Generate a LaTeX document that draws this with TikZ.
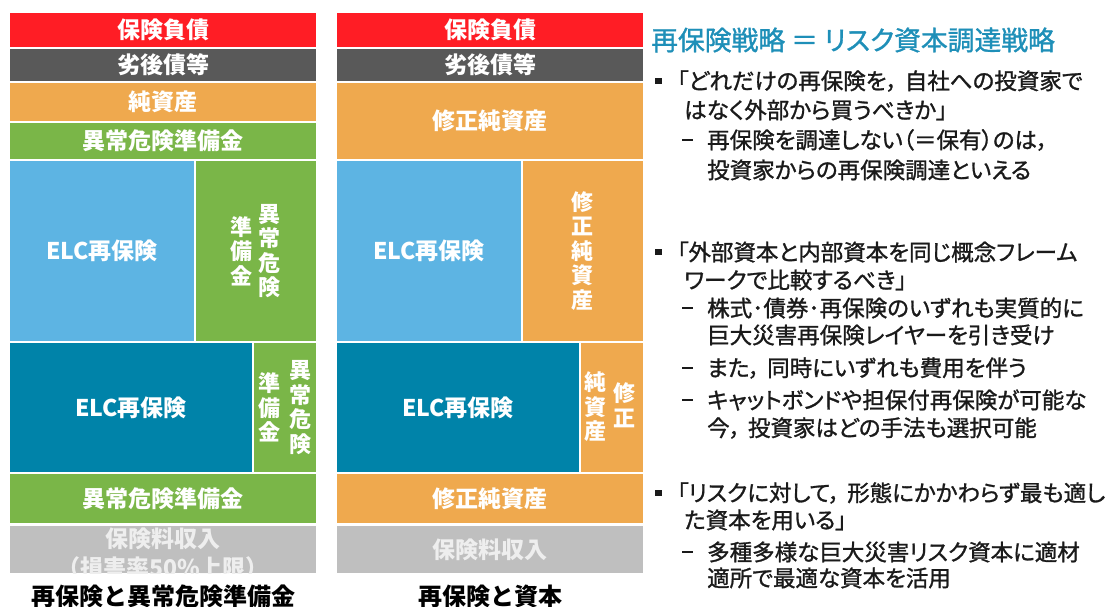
\documentclass[tikz,border=0pt]{standalone}
\usepackage{fontspec}
\newfontfamily\jpbox{Noto Sans CJK JP}
\newfontfamily\jptxt{Noto Sans CJK JP}[RawFeature=+palt, FakeBold=1.2]
\definecolor{cRed}{HTML}{FF1D25}
\definecolor{cDgray}{HTML}{595959}
\definecolor{cOrange}{HTML}{EFA94E}
\definecolor{cGreen}{HTML}{7AB648}
\definecolor{cLblue}{HTML}{5DB4E3}
\definecolor{cTeal}{HTML}{0083A9}
\definecolor{cLgray}{HTML}{BFBFBF}
\definecolor{cTitle}{HTML}{1E8FB8}
\definecolor{cText}{HTML}{1A1A1A}
\definecolor{cPale}{HTML}{EEEEEE}
\tikzset{
  boxlabel/.style={text=white, inner sep=0pt, font=\jpbox\bfseries\fontsize{23}{24.5}\selectfont, align=center},
  paletext/.style={boxlabel, text=cPale},
  vlabel/.style={boxlabel, font=\jpbox\bfseries\fontsize{22}{24.5}\selectfont},
  caption/.style={text=black, inner sep=0pt, font=\jpbox\bfseries\fontsize{24}{26}\selectfont},
  txtline/.style={anchor=west, inner sep=0pt, text=cText, font=\jptxt\fontsize{22.5}{24}\selectfont},
  titletext/.style={anchor=west, inner sep=0pt, text=cTitle, font=\jptxt\fontsize{26.8}{28}\selectfont},
  bulletsq/.style={fill=cText, minimum size=6.5pt, inner sep=0pt},
  dashmark/.style={fill=cText, minimum width=11pt, minimum height=2pt, inner sep=0pt},
}
\newcommand{\blk}[5]{\fill[#5] (#1,#2) rectangle (#3,#4);}
\begin{document}
\begin{tikzpicture}[x=1pt,y=-1pt]
\useasboundingbox (0,0) rectangle (1110,606);
\fill[white] (0,0) rectangle (1110,606);
% ---------- left column ----------
\blk{10}{13}{316}{47}{cRed}
\blk{10}{49}{316}{81}{cDgray}
\blk{10}{83}{316}{121}{cOrange}
\blk{10}{123}{316}{159}{cGreen}
\blk{10}{161}{194}{341}{cLblue}
\blk{196}{161}{316}{341}{cGreen}
\blk{10}{343}{252}{471.5}{cTeal}
\blk{254}{343}{316}{471.5}{cGreen}
\blk{10}{473.5}{316}{523.3}{cGreen}
\blk{10}{525.7}{316}{573.3}{cLgray}
\node[boxlabel] (l1) at (163,30) {保険負債};
\node[boxlabel] (l2) at (163,65) {劣後債等};
\node[boxlabel] (l3) at (163,102) {純資産};
\node[boxlabel] (l4) at (163,141) {異常危険準備金};
\node[boxlabel] (l5) at (102,251) {ELC再保険};
\node[vlabel] (l6a) at (269.5,251) {異\\常\\危\\険};
\node[vlabel] (l6b) at (241,251) {準\\備\\金};
\node[boxlabel] (l7) at (131,408) {ELC再保険};
\node[vlabel] (l8a) at (300,407.5) {異\\常\\危\\険};
\node[vlabel] (l8b) at (269,407.5) {準\\備\\金};
\node[boxlabel] (l9) at (163,498.5) {異常危険準備金};
\begin{scope}
\clip (10,525.7) rectangle (316,573.3);
\node[paletext] (l10) at (163,538.5) {保険料収入};
\node[paletext] (l11) at (163,567.5) {（損害率50\%上限）};
\end{scope}
\node[caption] (cap1) at (163,596) {再保険と異常危険準備金};
% ---------- right column ----------
\blk{337}{13}{643}{47}{cRed}
\blk{337}{49}{643}{81}{cDgray}
\blk{337}{83}{643}{159}{cOrange}
\blk{337}{161}{521}{341}{cLblue}
\blk{523}{161}{643}{341}{cOrange}
\blk{337}{343}{579}{471.5}{cTeal}
\blk{581}{343}{643}{471.5}{cOrange}
\blk{337}{473.5}{643}{523.3}{cOrange}
\blk{337}{525.7}{643}{573.3}{cLgray}
\node[boxlabel] (r1) at (490,30) {保険負債};
\node[boxlabel] (r2) at (490,65) {劣後債等};
\node[boxlabel] (r3) at (490,121) {修正純資産};
\node[boxlabel] (r4) at (429,251) {ELC再保険};
\node[vlabel] (r5) at (582,251) {修\\正\\純\\資\\産};
\node[boxlabel] (r6) at (458,408) {ELC再保険};
\node[vlabel] (r7a) at (624,405) {修\\正};
\node[vlabel] (r7b) at (595,407) {純\\資\\産};
\node[boxlabel] (r8) at (490,498.5) {修正純資産};
\node[paletext] (r9) at (490,550) {保険料収入};
\node[caption] (cap2) at (490,596) {再保険と資本};
% ---------- text panel ----------
\node[titletext] (title) at (651,40) {再保険戦略 ＝ リスク資本調達戦略};
\node[bulletsq] (b1) at (658.5,81) {};
\node[txtline] (t1) at (677,81) {「どれだけの再保険を，\hspace{7pt}自社への投資家で};
\node[txtline] (t2) at (684,110) {はなく外部から買うべきか」};
\node[dashmark] (d1) at (687.5,140) {};
\node[txtline] (t3) at (707,140) {再保険を調達しない（＝保有）のは，};
\node[txtline] (t4) at (707,170) {投資家からの再保険調達といえる};
\node[bulletsq] (b2) at (658.5,252) {};
\node[txtline] (t5) at (677,252) {「外部資本と内部資本を同じ概念フレーム};
\node[txtline] (t6) at (684,280) {ワークで比較するべき」};
\node[dashmark] (d2) at (687.5,308) {};
\node[txtline] (t7) at (707,308) {株式･債券･再保険のいずれも実質的に};
\node[txtline] (t8) at (707,335) {巨大災害再保険レイヤーを引き受け};
\node[dashmark] (d3) at (687.5,368) {};
\node[txtline] (t9) at (707,368) {また，\hspace{7pt}同時にいずれも費用を伴う};
\node[dashmark] (d4) at (687.5,400) {};
\node[txtline] (t10) at (707,400) {キャットボンドや担保付再保険が可能な};
\node[txtline] (t11) at (707,428) {今，\hspace{7pt}投資家はどの手法も選択可能};
\node[bulletsq] (b3) at (658.5,493) {};
\node[txtline] (t12) at (677,493) {「リスクに対して，\hspace{7pt}形態にかかわらず最も適し};
\node[txtline] (t13) at (684,520) {た資本を用いる」};
\node[dashmark] (d5) at (687.5,552) {};
\node[txtline] (t14) at (707,552) {多種多様な巨大災害リスク資本に適材};
\node[txtline] (t15) at (707,578) {適所で最適な資本を活用};
\end{tikzpicture}
\end{document}
